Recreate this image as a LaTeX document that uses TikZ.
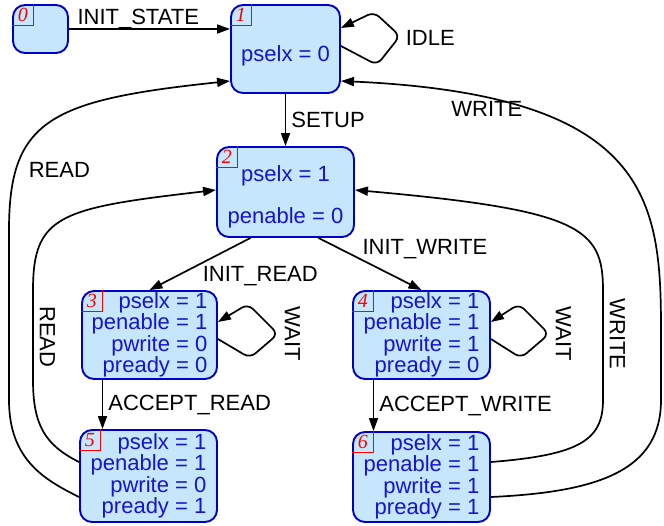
\documentclass[tikz,border=0pt]{standalone}
\usepackage{fontspec}
\setmainfont{Liberation Sans}
\newfontfamily\tagfont{Liberation Serif}
\usepackage{tikz}
\usetikzlibrary{arrows.meta, positioning, calc}
\usepackage{xcolor}
\definecolor{statefill}{RGB}{198,230,252}
\definecolor{stateline}{RGB}{0,0,204}
\definecolor{statetext}{RGB}{20,20,210}
\tikzstyle{state} = [rectangle, rounded corners=12pt, draw=stateline, fill=statefill, line width=1.9pt, text=statetext, font=\fontsize{22}{20}\selectfont, inner sep=0pt, align=right]
\tikzstyle{tag} = [anchor=north west, minimum size=21pt, inner sep=0pt, text=red, font=\tagfont\itshape\fontsize{20}{20}\selectfont]
\tikzstyle{arrow} = [line width=1.7pt, -{Triangle[length=13pt,width=9pt]}]
\tikzstyle{loopback} = [arrow, rounded corners=7pt]
\tikzstyle{lbl} = [font=\fontsize{22}{22}\selectfont, inner sep=2pt]
\tikzstyle{sidelbl} = [lbl, rotate=-90, anchor=south, inner sep=6pt]

\begin{document}
\begin{tikzpicture}[x=1pt, y=-1pt]
        \useasboundingbox (0,0) rectangle (664,525);

        % States
        \node (s0) [state, minimum width=55pt, minimum height=48pt] at (40.5,29) {};
        \node (s1) [state, minimum width=109pt, minimum height=88pt] at (285.5,49) {\rule{0pt}{30pt}pselx = 0};
        \node (s2) [state, align=center, minimum width=137pt, minimum height=90pt] at (285.5,192) {\rule{0pt}{26pt}pselx = 1\\[21pt]penable = 0};
        \node (s3) [state, minimum width=135pt, minimum height=88pt] at (149.5,335) {pselx = 1\\penable = 1\\pwrite = 0\\pready = 0};
        \node (s4) [state, minimum width=137pt, minimum height=88pt] at (421.5,335) {pselx = 1\\penable = 1\\pwrite = 1\\pready = 0};
        \node (s5) [state, minimum width=137pt, minimum height=92pt] at (148.5,476) {pselx = 1\\penable = 1\\pwrite = 0\\pready = 1};
        \node (s6) [state, minimum width=137pt, minimum height=90pt] at (421.5,477) {pselx = 1\\penable = 1\\pwrite = 1\\pready = 1};

        % State numbers
        \node (t0) [tag] at (s0.north west) {0};
        \node (t1) [tag] at (s1.north west) {1};
        \node (t2) [tag] at (s2.north west) {2};
        \node (t3) [tag] at (s3.north west) {3};
        \node (t4) [tag] at (s4.north west) {4};
        \node (t5) [tag] at (s5.north west) {5};
        \node (t6) [tag] at (s6.north west) {6};
        \foreach \i in {0,...,6}
            \draw[red, line width=0.6pt] (t\i.south west) -| (t\i.north east);

        % Main flow
        \draw[arrow] (s0) -- (s1.west |- s0) node[lbl, above, yshift=-3pt, pos=0.43] {INIT\_STATE};
        \draw[loopback] ([yshift=3pt]s1.east) -- (377,65) -- (400,36) node[lbl, right=3pt, yshift=-2pt] {IDLE} -- (374,12) -- ([yshift=21pt]s1.east);
        \draw[arrow] (s1) -- (s2) node[lbl, right=3pt, midway] {SETUP};
        \draw[arrow] ([xshift=-35pt]s2.south) -- (s3.north) node[lbl, anchor=north west, pos=0.5] {INIT\_READ};
        \draw[arrow] ([xshift=33pt]s2.south) -- (s4.north) node[lbl, anchor=south west, yshift=-3pt, pos=0.4] {INIT\_WRITE};

        % Waiting
        \draw[loopback] ([yshift=-4pt]s3.east) -- (250,358) -- (278,334) node[sidelbl] {WAIT} -- (248,304) -- ([yshift=13pt]s3.east);
        \draw[loopback] ([yshift=-4pt]s4.east) -- (521,358) -- (549,334) node[sidelbl] {WAIT} -- (519,304) -- ([yshift=13pt]s4.east);

        % Accept
        \draw[arrow] ([xshift=-47pt]s3.south) -- ([xshift=-47pt]s3.south |- s5.north) node[lbl, right=3pt, midway] {ACCEPT\_READ};
        \draw[arrow] ([xshift=-48pt]s4.south) -- ([xshift=-48pt]s4.south |- s6.north) node[lbl, right=3pt, midway] {ACCEPT\_WRITE};

        % Back to the start
        \draw[arrow] ([yshift=14pt]s5.west) .. controls (45,445) and (33,425) .. (33,380) -- (33,290) node[sidelbl, pos=0.48] {READ} .. controls (33,215) and (60,208) .. ([yshift=2pt]s2.west);
        \draw[arrow] ([yshift=-21pt]s5.west) .. controls (45,480) and (9,460) .. (9,400) -- (9,230) .. controls (9,120) and (50,100) .. ([yshift=-32pt]s1.west) node[lbl, anchor=west, xshift=10pt, pos=0.22] {READ};
        \draw[arrow] ([yshift=15pt]s6.east) .. controls (580,455) and (603,440) .. (603,400) -- (603,290) node[sidelbl, pos=0.6] {WRITE} .. controls (603,228) and (580,210) .. ([yshift=2pt]s2.east);
        \draw[arrow] ([yshift=-20pt]s6.east) .. controls (600,492) and (661,470) .. (661,400) -- (661,330) .. controls (661,200) and (650,95) .. ([yshift=-32pt]s1.east) node[lbl, anchor=north, pos=0.81] {WRITE};
    \end{tikzpicture}
\end{document}
